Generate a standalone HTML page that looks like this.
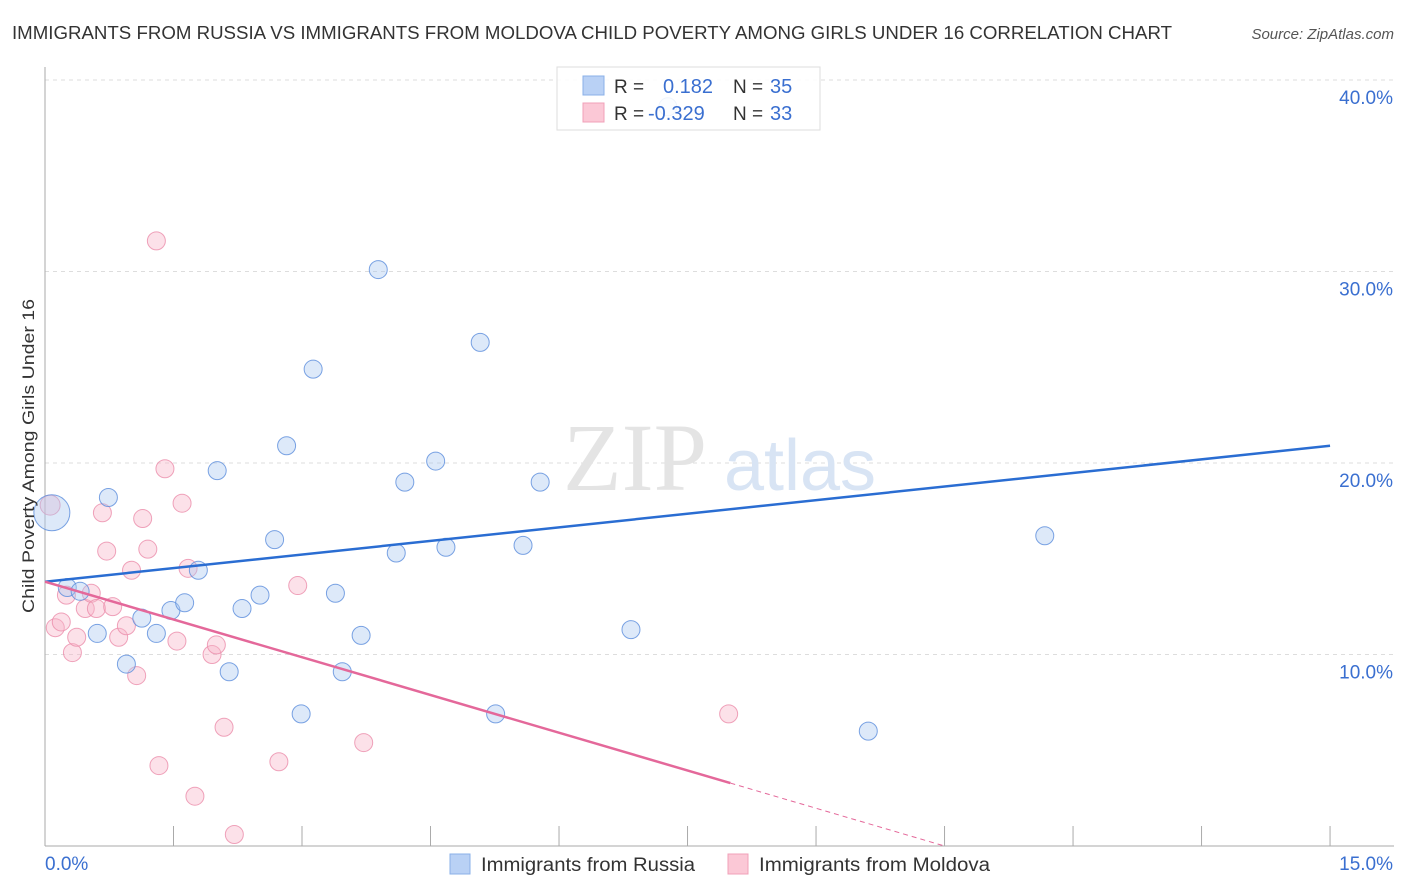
<!DOCTYPE html>
<html><head><meta charset="utf-8"><style>
body{margin:0;background:#fff;font-family:"Liberation Sans",sans-serif}
svg{display:block}
</style></head><body>
<svg width="1406" height="892" id="c">
<text x="12" y="39" font-size="18" fill="#333" textLength="1160" lengthAdjust="spacingAndGlyphs">IMMIGRANTS FROM RUSSIA VS IMMIGRANTS FROM MOLDOVA CHILD POVERTY AMONG GIRLS UNDER 16 CORRELATION CHART</text>
<text x="1394" y="39" font-size="15" fill="#555" text-anchor="end" font-style="italic">Source: ZipAtlas.com</text>
<g id="grid"></g>
<text x="635" y="490" font-size="96" fill="#e4e4e4" text-anchor="middle" font-family="Liberation Serif,serif">ZIP</text>
<text x="800" y="490" font-size="72" fill="#d8e4f4" text-anchor="middle">atlas</text>
<g id="pts"></g>
<g id="lines"></g>
<text x="34" y="456" font-size="17" fill="#333" text-anchor="middle" textLength="314" lengthAdjust="spacingAndGlyphs" transform="rotate(-90 34 456)">Child Poverty Among Girls Under 16</text>
<g>
<rect x="557" y="67" width="263" height="63" fill="#fff" fill-opacity="0.88" stroke="#ddd"/>
<rect x="583" y="76" width="21" height="19" fill="#b9d1f5" stroke="#8ab0e8"/>
<rect x="583" y="103" width="21" height="19" fill="#fbc8d6" stroke="#f0a0b8"/>
<text x="614" y="93" font-size="19" fill="#333">R = </text><text x="663" y="93" font-size="20" fill="#3a6fd0">0.182</text>
<text x="733" y="93" font-size="19" fill="#333">N = </text><text x="770" y="93" font-size="20" fill="#3a6fd0">35</text>
<text x="614" y="120" font-size="19" fill="#333">R = </text><text x="648" y="120" font-size="20" fill="#3a6fd0">-0.329</text>
<text x="733" y="120" font-size="19" fill="#333">N = </text><text x="770" y="120" font-size="20" fill="#3a6fd0">33</text>
</g>
<g>
<rect x="450" y="854" width="20" height="20" fill="#b9d1f5" stroke="#8ab0e8"/>
<text x="481" y="871" font-size="19" fill="#333" textLength="214" lengthAdjust="spacingAndGlyphs">Immigrants from Russia</text>
<rect x="728" y="854" width="20" height="20" fill="#fbc8d6" stroke="#f0a0b8"/>
<text x="759" y="871" font-size="19" fill="#333" textLength="231" lengthAdjust="spacingAndGlyphs">Immigrants from Moldova</text>
</g>
</svg>
<script>
const russiaX=[0.08,0.26,0.41,0.61,0.74,0.95,1.13,1.30,1.47,1.63,1.79,2.01,2.15,2.30,2.51,2.68,2.82,2.99,3.13,3.39,3.47,3.69,3.89,4.10,4.20,4.56,4.68,5.08,5.26,5.58,5.78,6.84,11.67,9.61,7.27];
const russiaY=[17.4,13.5,13.3,11.1,18.2,9.5,11.9,11.1,12.3,12.7,14.4,19.6,9.1,12.4,13.1,16.0,20.9,6.9,24.9,13.2,9.1,11.0,30.1,15.3,19.0,20.1,15.6,26.3,6.9,15.7,19.0,11.3,16.2,6.0,38.6];
const moldovaX=[0.06,0.12,0.19,0.25,0.32,0.37,0.47,0.54,0.60,0.67,0.72,0.79,0.86,0.95,1.01,1.07,1.14,1.20,1.30,1.33,1.40,1.54,1.60,1.67,1.75,1.95,2.00,2.09,2.21,2.73,2.95,3.72,7.98];
const moldovaY=[17.8,11.4,11.7,13.1,10.1,10.9,12.4,13.2,12.4,17.4,15.4,12.5,10.9,11.5,14.4,8.9,17.1,15.5,31.6,4.2,19.7,10.7,17.9,14.5,2.6,10.0,10.5,6.2,0.6,4.4,13.6,5.4,6.9];
const yTicks=[10,20,30,40];
const xTickVals=[0,1.5,3,4.5,6,7.5,9,10.5,12,13.5,15];
const blueLine=[13.8,20.9];
const pinkLine=[13.8,0];
const NS="http://www.w3.org/2000/svg";
const sx=v=>45+v*85.67, sy=v=>846-v*19.15;
function mk(t,a,p){const e=document.createElementNS(NS,t);for(const k in a)e.setAttribute(k,a[k]);p.appendChild(e);return e;}
const g=document.getElementById('grid');
yTicks.forEach(v=>{
 const l=mk('line',{x1:45,x2:1394,y1:sy(v),y2:sy(v),stroke:'#ddd','stroke-dasharray':'4,4'},g);
 
 
 const t=mk('text',{x:1393,y:sy(v)+24,'font-size':19,fill:'#3a6fd0','text-anchor':'end'},g);t.textContent=v.toFixed(1)+'%';
 
 
});
mk('line',{x1:45,x2:45,y1:67,y2:846,stroke:'#aaa'},g);
mk('line',{x1:45,x2:1394,y1:846,y2:846,stroke:'#aaa'},g);
xTickVals.forEach(v=>{const l=mk('line',{x1:sx(v),x2:sx(v),y1:826,y2:846,stroke:'#aaa'},g);
 
 });
let t=mk('text',{x:45,y:870,'font-size':19,fill:'#3a6fd0'},g);t.textContent='0.0%';


t=mk('text',{x:1393,y:870,'font-size':19,fill:'#3a6fd0','text-anchor':'end'},g);t.textContent='15.0%';


const p=document.getElementById('pts');
moldovaX.forEach((x,i)=>{const c=mk('circle',{cx:sx(x),cy:sy(moldovaY[i]),r:i==0?10:9,fill:'rgba(248,180,200,0.4)',stroke:'rgba(235,140,170,0.8)','stroke-width':1},p);
 
 });
russiaX.forEach((x,i)=>{const c=mk('circle',{cx:sx(x),cy:sy(russiaY[i]),r:i==0?18:9,fill:'rgba(170,200,240,0.4)',stroke:'rgba(90,140,220,0.8)','stroke-width':1},p);
 
 });
const L=document.getElementById('lines');
let ln=mk('line',{x1:sx(0),y1:sy(blueLine[0]),x2:sx(15),y2:sy(blueLine[1]),stroke:'#2a6dd2','stroke-width':2.5},L);


const pe=x=>pinkLine[0]+(pinkLine[1]-pinkLine[0])*x/10.5;
ln=mk('line',{x1:sx(0),y1:sy(pe(0)),x2:sx(8),y2:sy(pe(8)),stroke:'#e4689a','stroke-width':2.5},L);


ln=mk('line',{x1:sx(8),y1:sy(pe(8)),x2:sx(10.5),y2:sy(pe(10.5)),stroke:'#e4689a','stroke-width':1,'stroke-dasharray':'5,4'},L);


</script>
</body></html>
